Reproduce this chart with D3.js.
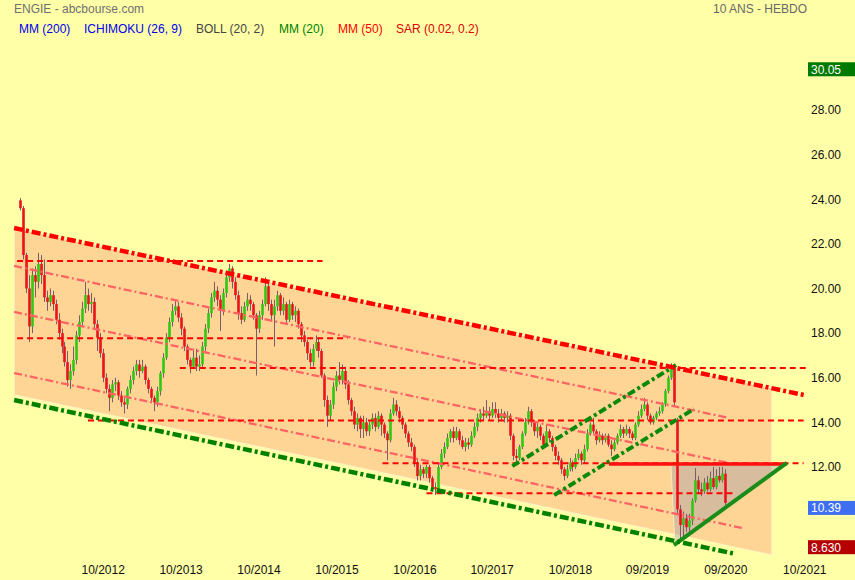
<!DOCTYPE html>
<html><head><meta charset="utf-8">
<script src="https://cdn.jsdelivr.net/npm/d3@7"></script>
<style>
html,body{margin:0;padding:0;background:#FFFFA8;}
svg{display:block;font-family:Arial,"Liberation Sans",sans-serif;}
</style></head><body>
<svg id="c" width="855" height="580"></svg>
<script>
// ---------- DATA ----------
const firstCandle = "2011-09-08";
const candleStepDays = 14;

const opens = [
23.95,23.6,21.5,20.0,18.3,20.6,20.3,21.1,20.6,19.6,
19.4,19.7,19.3,18.6,18.0,17.4,16.7,15.9,16.3,16.8,
17.9,18.5,19.1,19.7,19.3,19.4,18.4,17.8,17.1,16.0,
15.5,15.1,15.7,15.8,15.2,14.9,14.8,15.5,15.9,16.3,
16.6,16.3,16.5,15.9,15.5,15.1,14.9,15.4,16.2,16.9,
17.8,18.5,19.0,19.2,18.7,18.2,17.4,16.8,16.5,16.9,
16.5,16.6,17.4,18.2,18.9,19.6,19.9,19.5,19.0,19.8,
20.5,20.9,20.3,19.7,18.9,18.6,19.2,19.5,19.3,18.8,
18.2,18.8,19.3,20.1,19.3,18.8,19.2,19.7,19.0,19.3,
18.6,19.3,18.8,19.0,18.4,17.9,17.6,17.1,16.7,17.3,
17.6,17.2,16.1,15.0,14.3,14.8,15.6,16.1,15.9,16.3,
15.7,15.0,14.5,13.9,14.2,13.7,14.0,13.6,13.9,14.2,
13.8,14.3,13.9,13.5,13.2,14.4,14.8,14.5,14.2,13.9,
13.5,13.1,12.9,12.2,11.6,11.9,11.7,12.0,11.5,11.1,
11.0,12.0,12.6,12.9,13.3,13.6,13.3,13.6,13.2,12.9,
13.1,13.0,13.4,13.8,14.2,14.4,14.3,14.5,14.3,14.6,
14.4,14.2,14.4,14.2,14.3,13.4,12.5,12.4,12.9,13.5,
14.0,14.5,14.0,13.6,13.8,13.4,13.0,13.6,13.3,12.9,
12.5,12.3,11.9,11.6,11.9,12.2,12.0,12.4,12.6,12.3,
12.8,13.5,13.9,13.6,13.2,13.4,13.2,13.4,13.0,12.8,
13.1,13.4,13.7,13.5,13.7,13.5,13.3,13.9,14.3,14.6,
14.8,14.3,14.0,14.2,14.4,14.5,14.8,15.4,16.0,16.4,
14.1,10.1,9.4,9.7,9.3,9.6,10.5,11.4,11.0,10.9,
11.3,11.0,11.5,11.1,11.6,11.4,11.7];

const highs = [
24.05,23.7,21.6,20.6,20.9,21.0,21.6,21.5,21.3,19.9,
20.0,19.9,19.5,18.9,18.2,17.6,17.2,16.6,17.4,18.1,
18.8,19.4,20.3,20.0,19.8,19.6,18.6,18.0,17.3,16.2,
15.7,15.9,16.0,15.9,15.4,15.1,15.6,16.1,16.5,16.8,
16.8,16.8,16.6,16.0,15.6,15.2,15.6,16.3,17.1,18.0,
18.7,19.3,19.5,19.4,18.9,18.3,17.5,16.9,17.2,17.3,
17.0,17.6,18.4,19.1,19.8,20.3,20.1,19.7,20.0,20.8,
21.1,21.0,20.5,19.9,19.2,19.4,19.8,19.7,19.4,18.9,
19.0,19.5,20.5,20.2,19.5,19.5,19.9,19.8,19.6,19.4,
19.5,19.4,19.2,19.1,18.5,18.1,17.7,17.3,17.5,17.9,
17.8,17.3,16.2,15.2,15.0,15.8,16.3,16.7,16.6,16.5,
15.9,15.1,14.7,14.4,14.3,14.3,14.2,14.1,14.4,14.4,
14.5,14.4,14.0,13.6,14.6,15.1,15.0,14.7,14.3,14.0,
13.6,13.3,13.0,12.4,12.1,12.0,12.1,12.1,11.6,11.3,
12.2,12.8,13.1,13.5,13.7,13.8,13.8,13.7,13.4,13.3,
13.3,13.6,14.0,14.4,14.6,14.7,15.0,14.7,14.9,14.9,
14.6,14.6,14.5,14.5,14.4,13.5,12.8,13.0,13.6,14.2,
14.7,14.6,14.1,14.0,13.9,13.5,13.9,13.7,13.4,13.0,
12.7,12.4,12.0,12.1,12.4,12.3,12.6,12.8,12.7,13.0,
13.7,14.0,14.2,13.7,13.6,13.5,13.5,13.5,13.2,13.3,
13.5,13.9,13.8,13.9,13.8,13.6,14.0,14.5,14.8,15.1,
14.9,14.4,14.3,14.5,14.7,14.9,15.5,16.1,16.65,16.5,
14.2,10.3,10.0,9.9,9.9,10.6,11.95,11.6,11.3,11.5,
11.6,11.8,12.0,11.9,12.0,12.0,11.9];

const lows = [
23.5,21.3,19.8,17.6,18.0,19.6,20.0,20.2,19.4,19.0,
19.2,19.0,18.4,17.7,17.1,16.5,15.6,15.5,16.1,16.6,
17.6,18.3,18.9,19.0,18.9,18.2,17.2,16.9,15.8,15.3,
14.5,14.9,15.4,15.0,14.7,14.4,14.6,15.3,15.7,16.1,
16.0,16.2,15.7,15.3,14.9,14.5,14.7,15.2,16.0,16.8,
17.6,18.3,18.8,18.5,17.9,17.2,16.6,16.2,16.4,16.3,
16.3,16.4,17.2,18.0,18.7,19.4,19.2,18.1,18.8,19.6,
20.3,20.0,19.5,18.6,18.4,18.5,19.0,19.0,18.6,16.1,
18.0,18.6,19.2,19.0,18.5,17.4,19.0,18.8,18.8,18.4,
18.5,18.6,18.5,18.2,17.6,17.4,16.8,16.5,16.5,17.2,
16.9,16.0,14.7,13.8,14.1,14.6,15.4,15.7,15.7,15.5,
14.8,14.3,13.7,13.6,13.3,13.3,13.4,13.4,13.7,13.6,
13.7,13.4,13.3,12.3,13.1,14.3,14.3,14.0,13.7,13.3,
12.9,12.7,12.0,11.4,11.4,11.5,11.5,11.3,10.9,10.75,
10.9,11.9,12.4,12.8,13.1,13.1,13.2,13.0,12.8,12.7,
12.8,12.9,13.3,13.6,14.0,14.1,14.2,14.1,14.2,14.2,
14.0,14.1,14.0,14.0,13.2,12.3,12.2,12.3,12.8,13.4,
13.9,13.8,13.4,13.3,13.2,12.9,12.9,13.1,12.7,12.3,
12.1,11.7,11.4,11.5,11.8,11.8,11.9,12.3,12.1,12.2,
12.7,13.4,13.5,13.0,13.1,13.0,13.1,12.9,12.5,12.7,
13.0,13.3,13.3,13.4,13.3,13.2,13.2,13.8,14.2,14.5,
14.1,13.9,13.9,14.1,14.3,14.4,14.7,15.3,15.9,14.7,
9.9,8.63,8.9,9.1,9.1,9.4,10.4,10.8,10.7,10.8,
10.9,10.9,11.0,11.0,11.3,11.3,10.3];

const closes = [
23.6,21.5,20.0,18.3,20.6,20.3,21.1,20.6,19.6,19.4,
19.7,19.3,18.6,18.0,17.4,16.7,15.9,16.3,16.8,17.9,
18.5,19.1,19.7,19.3,19.4,18.4,17.8,17.1,16.0,15.5,
15.1,15.7,15.8,15.2,14.9,14.8,15.5,15.9,16.3,16.6,
16.3,16.5,15.9,15.5,15.1,14.9,15.4,16.2,16.9,17.8,
18.5,19.0,19.2,18.7,18.2,17.4,16.8,16.5,16.9,16.5,
16.6,17.4,18.2,18.9,19.6,19.9,19.5,19.0,19.8,20.5,
20.9,20.3,19.7,18.9,18.6,19.2,19.5,19.3,18.8,18.2,
18.8,19.3,20.1,19.3,18.8,19.2,19.7,19.0,19.3,18.6,
19.3,18.8,19.0,18.4,17.9,17.6,17.1,16.7,17.3,17.6,
17.2,16.1,15.0,14.3,14.8,15.6,16.1,15.9,16.3,15.7,
15.0,14.5,13.9,14.2,13.7,14.0,13.6,13.9,14.2,13.8,
14.3,13.9,13.5,13.2,14.4,14.8,14.5,14.2,13.9,13.5,
13.1,12.9,12.2,11.6,11.9,11.7,12.0,11.5,11.1,11.0,
12.0,12.6,12.9,13.3,13.6,13.3,13.6,13.2,12.9,13.1,
13.0,13.4,13.8,14.2,14.4,14.3,14.5,14.3,14.6,14.4,
14.2,14.4,14.2,14.3,13.4,12.5,12.4,12.9,13.5,14.0,
14.5,14.0,13.6,13.8,13.4,13.0,13.6,13.3,12.9,12.5,
12.3,11.9,11.6,11.9,12.2,12.0,12.4,12.6,12.3,12.8,
13.5,13.9,13.6,13.2,13.4,13.2,13.4,13.0,12.8,13.1,
13.4,13.7,13.5,13.7,13.5,13.3,13.9,14.3,14.6,14.8,
14.3,14.0,14.2,14.4,14.5,14.8,15.4,16.0,16.4,14.9,
10.1,9.4,9.7,9.3,9.6,10.5,11.4,11.0,10.9,11.3,
11.0,11.5,11.1,11.6,11.4,11.7,10.39];

const yTicks = [12,14,16,18,20,22,24,26,28];
const xTickDates = ["2012-10-01","2013-10-01","2014-10-01","2015-10-01","2016-10-01","2017-09-27","2018-09-29","2019-09-25","2020-09-26","2021-10-01"];
const xTickLabels = ["10/2012","10/2013","10/2014","10/2015","10/2016","10/2017","10/2018","09/2019","09/2020","10/2021"];

const legendLabels = ["MM (200)","ICHIMOKU (26, 9)","BOLL (20, 2)","MM (20)","MM (50)","SAR (0.02, 0.2)"];
const legendColors = ["#0000ee","#0000ee","#444444","#008000","#ff0000","#dd0000"];

const markerValues = [30.05, 10.39, 8.63];
const markerLabels = ["30.05","10.39","8.630"];
const markerColors = ["#007a00","#3d6ff0","#b40000"];

// drawn analysis objects: [date, price]
const channelArea = [["2011-08-13",22.71],["2021-05-02",15.54],["2021-05-02",8.06],["2011-08-13",15.23]];
const channelTop = [["2011-08-13",22.71],["2021-09-28",15.23]];
const channelBottom = [["2011-08-13",15.0],["2020-11-14",8.10]];
const innerLineA = [["2011-08-13",21.01],["2020-10-13",14.20]];
const innerLineB = [["2011-08-13",18.95],["2020-10-13",12.18]];
const innerLineC = [["2011-08-13",16.21],["2020-12-12",9.27]];
const levelValues = [21.23, 17.77, 16.44, 14.08, 12.17, 10.82];
const levelStarts = ["2011-08-27","2011-08-27","2013-09-27","2012-07-24","2016-05-04","2016-11-26"];
const levelEnds = ["2015-07-28","2015-11-22","2021-10-08","2021-09-28","2021-09-28","2020-11-14"];
const riseUpper = [["2018-01-02",12.04],["2020-02-08",16.57]];
const riseLower = [["2018-07-17",10.74],["2020-05-02",14.60]];
const resistance = [["2019-03-31",12.13],["2021-07-11",12.13]];
const supportLine = [["2020-01-29",8.50],["2021-07-11",12.18]];
const triangleArea = [["2020-01-15",12.09],["2021-07-11",12.13],["2020-02-03",8.55]];

// ---------- CHART ----------
const svg = d3.select("#c");
const W = 855, H = 580;
const parse = d3.timeParse("%Y-%m-%d");
const x = d3.scaleTime().domain([parse("2012-10-01"), parse("2021-10-01")]).range([102.7, 804.3]);
const y = d3.scaleLinear().domain([12, 28]).range([467, 110]);

svg.append("rect").attr("width", W).attr("height", H).attr("fill", "#FFFFA8");

const line = d3.line().x(d => x(parse(d[0]))).y(d => y(d[1]));

// channel fill
svg.append("path").attr("d", line(channelArea) + "Z")
  .attr("fill", "#FFD596").attr("stroke", "#FFF4C0").attr("stroke-width", 1.2);

// triangle
svg.append("path").attr("d", line(triangleArea) + "Z")
  .attr("fill", "#9090b0").attr("fill-opacity", 0.35)
  .attr("stroke", "#FFF0C8").attr("stroke-width", 1).attr("stroke-opacity", 0.8);

// candles
const start = parse(firstCandle);
const n = Math.min(opens.length, highs.length, lows.length, closes.length);
const candles = d3.range(n).map(i => ({
  date: d3.timeDay.offset(start, i * candleStepDays),
  o: opens[i], h: highs[i], l: lows[i], c: closes[i]
}));
const cg = svg.append("g");
cg.selectAll("line").data(candles).join("line")
  .attr("x1", d => Math.round(x(d.date)) + 0.5).attr("x2", d => Math.round(x(d.date)) + 0.5)
  .attr("y1", d => y(d.h)).attr("y2", d => y(d.l))
  .attr("stroke", "#7a5d6a").attr("stroke-width", 1);
cg.selectAll("rect").data(candles).join("rect")
  .attr("x", d => Math.round(x(d.date)) - 0.8)
  .attr("width", 2.6)
  .attr("y", d => y(Math.max(d.o, d.c)))
  .attr("height", d => Math.max(1, Math.abs(y(d.o) - y(d.c))))
  .attr("fill", d => d.c >= d.o ? "#2fc814" : "#e8141c");

// inner pink dash-dot lines
[innerLineA, innerLineB, innerLineC].forEach(l => {
  svg.append("path").attr("d", line(l)).attr("fill", "none")
    .attr("stroke", "#ff6464").attr("stroke-width", 2.3)
    .attr("stroke-dasharray", "8,3,2,3");
});

// horizontal dashed levels
levelValues.forEach((v, i) => {
  svg.append("path").attr("d", line([[levelStarts[i], v], [levelEnds[i], v]]))
    .attr("fill", "none").attr("stroke", "#ff0000").attr("stroke-width", 2)
    .attr("stroke-dasharray", "6,4");
});

// rising green channel
[riseUpper, riseLower].forEach(l => {
  svg.append("path").attr("d", line(l)).attr("fill", "none")
    .attr("stroke", "#0a8a0a").attr("stroke-width", 4)
    .attr("stroke-dasharray", "8,3,3,3");
});

// resistance & support (solid)
svg.append("path").attr("d", line(resistance)).attr("fill", "none")
  .attr("stroke", "#ff1010").attr("stroke-width", 3.5);
svg.append("path").attr("d", line(supportLine)).attr("fill", "none")
  .attr("stroke", "#1a8c1a").attr("stroke-width", 4);

// main channel borders
svg.append("path").attr("d", line(channelTop)).attr("fill", "none")
  .attr("stroke", "#ff0000").attr("stroke-width", 4.5)
  .attr("stroke-dasharray", "9,3,3,3");
svg.append("path").attr("d", line(channelBottom)).attr("fill", "none")
  .attr("stroke", "#008000").attr("stroke-width", 4.5)
  .attr("stroke-dasharray", "9,3,3,3");

// axes
const yAxis = svg.append("g").attr("transform", "translate(808,0)")
  .call(d3.axisRight(y).tickValues(yTicks).tickSize(0).tickPadding(3).tickFormat(d3.format(".2f")));
yAxis.select(".domain").remove();
yAxis.selectAll("text").attr("font-size", 12).attr("fill", "#111").attr("font-family", "Arial, 'Liberation Sans', sans-serif");

const xAxis = svg.append("g").attr("transform", "translate(0,562.5)")
  .call(d3.axisBottom(x).tickValues(xTickDates.map(parse)).tickSize(0).tickPadding(3)
    .tickFormat((d, i) => xTickLabels[i]));
xAxis.select(".domain").remove();
xAxis.selectAll("text").attr("font-size", 12).attr("fill", "#111").attr("font-family", "Arial, 'Liberation Sans', sans-serif");

// value markers
markerValues.forEach((v, i) => {
  svg.append("rect").attr("x", 808).attr("y", y(v) - 2).attr("width", 47).attr("height", 14)
    .attr("fill", markerColors[i]);
  svg.append("text").attr("x", 811).attr("y", y(v) + 9.5).attr("font-size", 12)
    .attr("fill", "#ffffff").text(markerLabels[i]);
});

// titles
svg.append("text").attr("x", 14).attr("y", 13).attr("font-size", 12).attr("fill", "#707070")
  .text("ENGIE - abcbourse.com");
svg.append("text").attr("x", 713).attr("y", 13).attr("font-size", 12).attr("fill", "#686868")
  .text("10 ANS - HEBDO");

// legend
const legendX = [19, 84, 196, 279, 338, 396];
legendLabels.forEach((t, i) => {
  svg.append("text").attr("x", legendX[i]).attr("y", 32.5).attr("font-size", 12)
    .attr("fill", legendColors[i]).text(t);
});
</script>
</body></html>
